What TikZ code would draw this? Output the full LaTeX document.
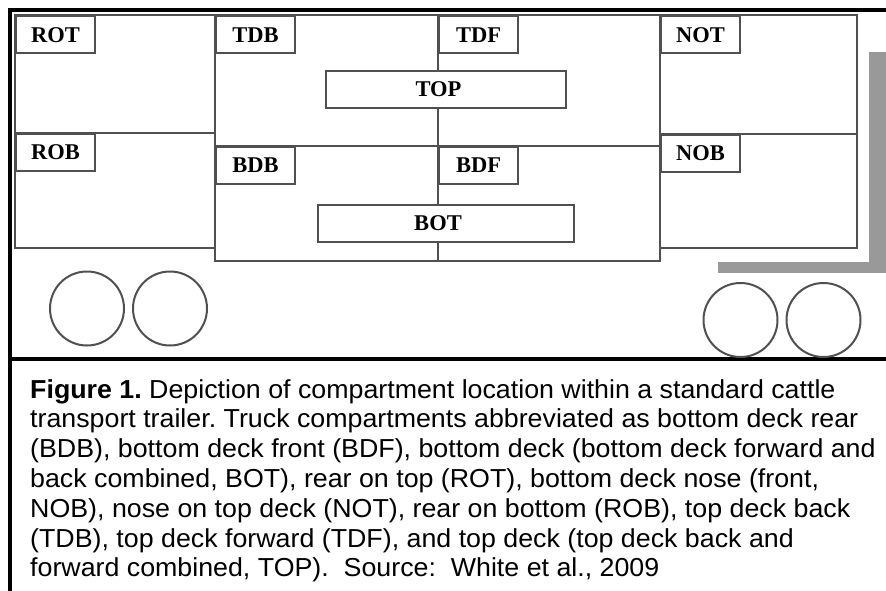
\documentclass[tikz,border=0pt]{standalone}
\usepackage{fontspec}
\newfontfamily\capfont[FakeStretch=1.03]{Liberation Sans}
\newfontfamily\labfont{Liberation Serif}
\definecolor{linegray}{HTML}{505050}
\definecolor{lgray}{HTML}{999999}
\frenchspacing
\begin{document}
\begin{tikzpicture}[x=1pt,y=-1pt,
  comp/.style={draw=linegray,line width=2pt},
  labbox/.style={draw=linegray,line width=2pt,fill=white,anchor=north west,inner sep=0pt,
     minimum width=79pt,minimum height=37pt,font=\labfont\bfseries\fontsize{22.5}{22.5}\selectfont},
  bigbox/.style={draw=linegray,line width=2pt,fill=white},
  bigtxt/.style={font=\labfont\bfseries\fontsize{22.5}{22.5}\selectfont,inner sep=0pt},
  wheel/.style={draw=linegray,line width=2pt,circle,minimum size=74pt,inner sep=0pt},
  capline/.style={anchor=base west,inner sep=0pt,font=\capfont\fontsize{26}{29.8}\selectfont},
  frame/.style={draw=black,line width=4pt}]
\useasboundingbox (0,0) rectangle (886,591);
% outer frame
\coordinate (ftl) at (9.5,10);
\coordinate (ftr) at (886,10);
\coordinate (fbl) at (9.5,591);
\coordinate (sl) at (9.5,359);
\coordinate (sr) at (886,359);
\draw[frame] (ftr) -- (ftl) -- (fbl);
\draw[black,line width=3.5pt] (sl) -- (sr);
% gray L (cab)
\fill[lgray] (869,52) rectangle (886,273);
\fill[lgray] (718,262) rectangle (886,273);
% rear section
\draw[comp] (15,15.5) rectangle (215,248);
\draw[comp] (15,133) -- (215,133);
% middle section
\draw[comp] (215,15.5) rectangle (660,261);
\draw[comp] (215,146) -- (660,146);
\draw[comp] (438,15.5) -- (438,261);
% nose section
\draw[comp] (660,15.5) rectangle (857,248);
\draw[comp] (660,134) -- (857,134);
% label boxes
\node[labbox] (ROT) at (15,15.5) {ROT};
\node[labbox] (ROB) at (15,133) {ROB};
\node[labbox] (TDB) at (215,15.5) {TDB};
\node[labbox] (BDB) at (215,146) {BDB};
\node[labbox] (TDF) at (438,15.5) {TDF};
\node[labbox] (BDF) at (438,146) {BDF};
\node[labbox] (NOT) at (660,15.5) {NOT};
\node[labbox] (NOB) at (660,134) {NOB};
% combined boxes
\draw[bigbox] (326,71) rectangle (566,108);
\node[bigtxt] (TOP) at (438.5,89.5) {TOP};
\draw[bigbox] (318,205) rectangle (574,242);
\node[bigtxt] (BOT) at (438,223.5) {BOT};
% wheels
\node[wheel] (w1) at (87,308.5) {};
\node[wheel] (w2) at (170,308.5) {};
\node[wheel] (w3) at (740.5,320) {};
\node[wheel] (w4) at (823.5,320) {};
% caption
\node[capline] (c1) at (30,398) {\textbf{Figure 1.} Depiction of compartment location within a standard cattle};
\node[capline] (c2) at (30,427.8) {transport trailer. Truck compartments abbreviated as bottom deck rear};
\node[capline] (c3) at (30,457.6) {(BDB), bottom deck front (BDF), bottom deck (bottom deck forward and};
\node[capline] (c4) at (30,487.4) {back combined, BOT), rear on top (ROT), bottom deck nose (front,};
\node[capline] (c5) at (30,517.2) {NOB), nose on top deck (NOT), rear on bottom (ROB), top deck back};
\node[capline] (c6) at (30,547) {(TDB), top deck forward (TDF), and top deck (top deck back and};
\node[capline] (c7) at (30,576.8) {forward combined, TOP).\ \ Source:\ \ White et al., 2009};
\end{tikzpicture}
\end{document}
